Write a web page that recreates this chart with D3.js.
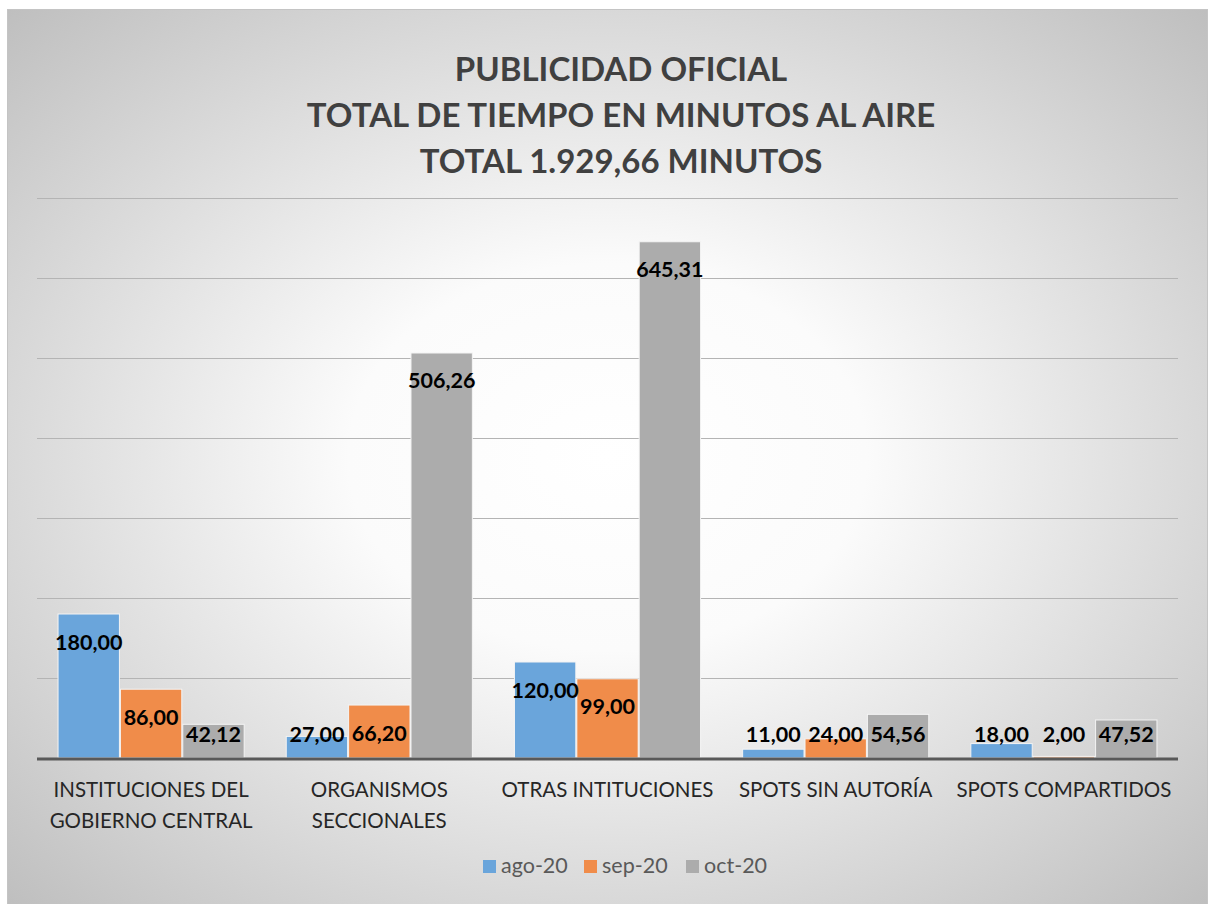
<!DOCTYPE html>
<html>
<head>
<meta charset="utf-8">
<script src="https://cdn.jsdelivr.net/npm/d3@7"></script>
<style>
  body { margin: 0; background: #fff; }
  text { font-family: Lato, "Open Sans", sans-serif; }
</style>
</head>
<body>
<div id="chart"></div>
<script>
var categories = [
  ["INSTITUCIONES DEL", "GOBIERNO CENTRAL"],
  ["ORGANISMOS", "SECCIONALES"],
  ["OTRAS INTITUCIONES"],
  ["SPOTS SIN AUTORÍA"],
  ["SPOTS COMPARTIDOS"]
];
var series = ["ago-20", "sep-20", "oct-20"];
var ago20 = [180.00, 27.00, 120.00, 11.00, 18.00];
var sep20 = [86.00, 66.20, 99.00, 24.00, 2.00];
var oct20 = [42.12, 506.26, 645.31, 54.56, 47.52];
var yTicks = [100, 200, 300, 400, 500, 600, 700];
var titleLines = ["PUBLICIDAD OFICIAL", "TOTAL DE TIEMPO EN MINUTOS AL AIRE", "TOTAL 1.929,66 MINUTOS"];

var colors = ["#6aa5db", "#f08c4a", "#acacac"];
var values = [ago20, sep20, oct20];

var W = 1208, H = 904;
var plot = {left: 37, right: 1178, top: 198, bottom: 758};

var fmt = function(v) { return d3.format(".2f")(v).replace(".", ","); };

var svg = d3.select("#chart").append("svg")
    .attr("width", W)
    .attr("height", H);

var defs = svg.append("defs");
var grad = defs.append("radialGradient")
    .attr("id", "bg")
    .attr("cx", "50%").attr("cy", "50%").attr("r", "72%");
grad.append("stop").attr("offset", "0%").attr("stop-color", "#ffffff");
grad.append("stop").attr("offset", "30%").attr("stop-color", "#fbfbfb");
grad.append("stop").attr("offset", "100%").attr("stop-color", "#bdbdbd");

svg.append("rect")
    .attr("x", 7.5).attr("y", 9.5)
    .attr("width", W - 8).attr("height", H - 9)
    .attr("fill", "url(#bg)")
    .attr("stroke", "#c4c4c4");

// title
svg.append("g").selectAll("text")
    .data(titleLines)
  .enter().append("text")
    .attr("x", 621)
    .attr("y", function(d, i) { return 81 + i * 46; })
    .attr("text-anchor", "middle")
    .attr("font-size", 33)
    .attr("font-weight", "bold")
    .attr("fill", "#404040")
    .text(function(d) { return d; });

var x0 = d3.scaleBand()
    .domain(d3.range(categories.length))
    .range([plot.left, plot.right])
    .paddingInner(0.18)
    .paddingOuter(0.09);

var x1 = d3.scaleBand()
    .domain(series)
    .range([0, x0.bandwidth()]);

var y = d3.scaleLinear()
    .domain([0, 700])
    .range([plot.bottom, plot.top]);

// gridlines
svg.append("g")
    .attr("class", "grid")
    .attr("transform", "translate(" + plot.left + ",0)")
    .call(d3.axisLeft(y).tickValues(yTicks).tickSize(-(plot.right - plot.left)).tickFormat(""))
    .call(function(g) {
      g.select(".domain").remove();
      g.selectAll("line").attr("stroke", "#b4b4b4").attr("stroke-width", 1);
    });

// bars
var groups = svg.append("g").selectAll("g")
    .data(categories)
  .enter().append("g")
    .attr("transform", function(d, i) { return "translate(" + x0(i) + ",0)"; });

groups.selectAll("rect")
    .data(function(d, i) { return series.map(function(s, j) { return {s: s, j: j, v: values[j][i]}; }); })
  .enter().append("rect")
    .attr("x", function(d) { return x1(d.s) + 0.5; })
    .attr("width", x1.bandwidth() - 1)
    .attr("y", function(d) { return y(d.v); })
    .attr("height", function(d) { return y(0) - y(d.v); })
    .attr("fill", function(d) { return colors[d.j]; })
    .attr("stroke", "#f4f4f4")
    .attr("stroke-width", 1);

groups.selectAll("text.lbl")
    .data(function(d, i) { return series.map(function(s, j) { return {s: s, j: j, v: values[j][i]}; }); })
  .enter().append("text")
    .attr("class", "lbl")
    .attr("x", function(d) { return x1(d.s) + x1.bandwidth() / 2; })
    .attr("y", function(d) { return Math.min(y(d.v) + 28, 734) + 7.5; })
    .attr("text-anchor", "middle")
    .attr("font-size", 21.5)
    .attr("font-weight", "bold")
    .attr("fill", "#000")
    .text(function(d) { return fmt(d.v); });

// x axis
svg.append("line")
    .attr("x1", plot.left).attr("x2", plot.right)
    .attr("y1", y(0) + 1).attr("y2", y(0) + 1)
    .attr("stroke", "#595959")
    .attr("stroke-width", 3);

svg.append("g").selectAll("text")
    .data(categories)
  .enter().append("text")
    .attr("text-anchor", "middle")
    .attr("font-size", 20.5)
    .attr("fill", "#262626")
    .each(function(d, i) {
      var t = d3.select(this);
      d.forEach(function(line, k) {
        t.append("tspan")
          .attr("x", x0(i) + x0.bandwidth() / 2)
          .attr("y", 797 + k * 31)
          .text(line);
      });
    });

// legend
var legendX = [483, 584, 686];
var legend = svg.append("g").selectAll("g")
    .data(series)
  .enter().append("g")
    .attr("transform", function(d, i) { return "translate(" + legendX[i] + ",860)"; });

legend.append("rect")
    .attr("width", 13).attr("height", 13)
    .attr("fill", function(d, i) { return colors[i]; });

legend.append("text")
    .attr("x", 18).attr("y", 13)
    .attr("font-size", 21.5)
    .attr("fill", "#595959")
    .text(function(d) { return d; });
</script>
</body>
</html>
